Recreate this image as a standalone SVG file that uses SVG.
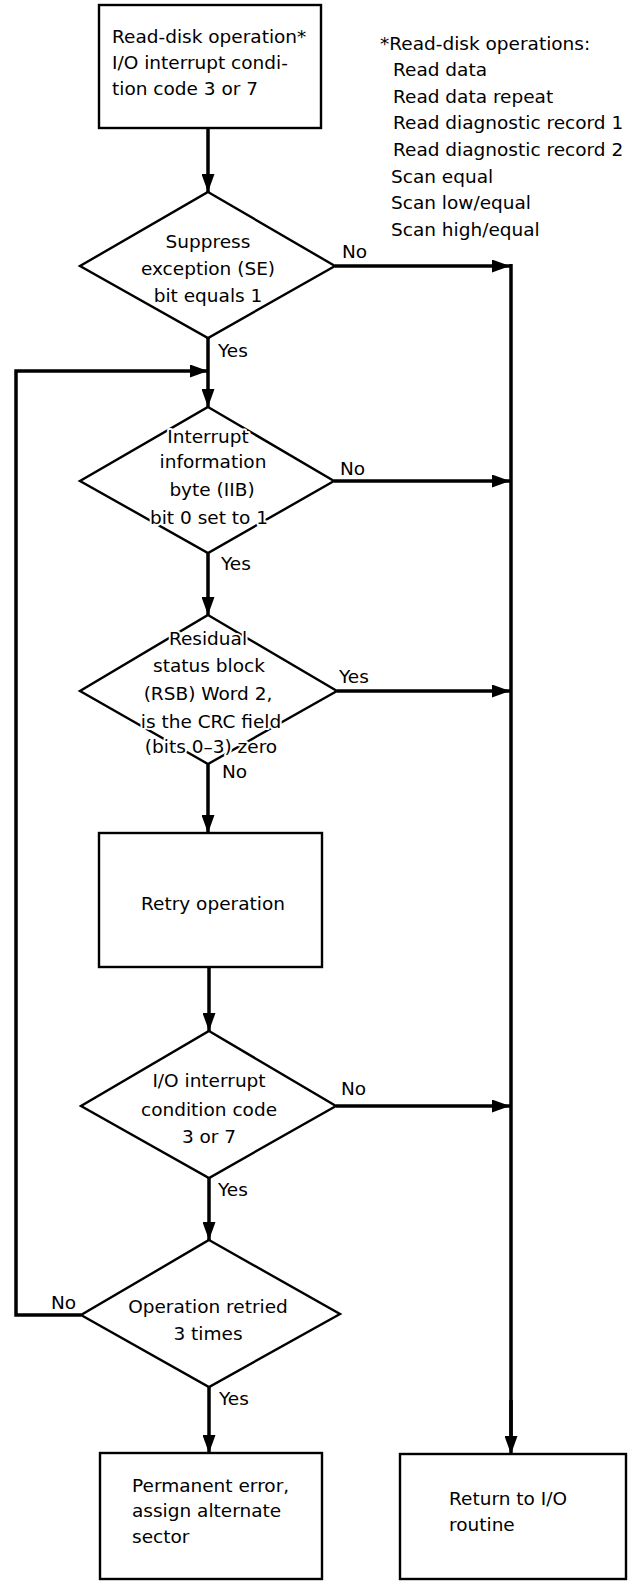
<svg xmlns="http://www.w3.org/2000/svg" width="628" height="1581" viewBox="0 0 628 1581">
<style>
  text { font-family: "DejaVu Sans", "Liberation Sans", sans-serif; font-size: 18.5px; fill: #000; }
  .c { text-anchor: middle; }
  .halo { stroke: #fff; stroke-width: 4; paint-order: stroke; stroke-linejoin: round; }
  .box { fill: #fff; stroke: #000; stroke-width: 2.4; }
  .dia { fill: #fff; stroke: #000; stroke-width: 2.4; stroke-linejoin: miter; }
  .conn { fill: none; stroke: #000; stroke-width: 3.5; }
  .arr { marker-end: url(#ah); }
</style>
<defs>
  <marker id="ah" markerUnits="userSpaceOnUse" viewBox="0 0 18 13" markerWidth="18" markerHeight="13" refX="18" refY="6.5" orient="auto">
    <path d="M0,0 L18,6.5 L0,13 z" fill="#000"/>
  </marker>
</defs>
<rect width="628" height="1581" fill="#fff"/>

<g id="connectors">
  <line class="conn arr" x1="208" y1="128" x2="208" y2="192"/>
  <line class="conn arr" x1="335" y1="266" x2="510" y2="266"/>
  <line class="conn" x1="511" y1="264" x2="511" y2="1440"/>
  <line class="conn arr" x1="511" y1="1400" x2="511" y2="1454"/>
  <line class="conn arr" x1="208" y1="338" x2="208" y2="407"/>
  <path class="conn arr" d="M81,1315 H16 V371 H208"/>
  <line class="conn arr" x1="334" y1="481" x2="510" y2="481"/>
  <line class="conn arr" x1="208" y1="553" x2="208" y2="615"/>
  <line class="conn arr" x1="337" y1="691" x2="510" y2="691"/>
  <line class="conn arr" x1="208" y1="764" x2="208" y2="833"/>
  <line class="conn arr" x1="209" y1="967" x2="209" y2="1031"/>
  <line class="conn arr" x1="336" y1="1106" x2="510" y2="1106"/>
  <line class="conn arr" x1="209" y1="1178" x2="209" y2="1240"/>
  <line class="conn arr" x1="209" y1="1387" x2="209" y2="1453"/>
  <text x="342" y="258">No</text>
  <text x="218" y="357">Yes</text>
  <text x="340" y="475">No</text>
  <text x="221" y="570">Yes</text>
  <text x="339" y="683">Yes</text>
  <text x="222" y="778">No</text>
  <text x="341" y="1095">No</text>
  <text x="218" y="1196">Yes</text>
  <text x="51" y="1309">No</text>
  <text x="219" y="1405">Yes</text>
</g>

<g id="start">
  <rect class="box" x="99" y="5" width="222" height="123"/>
  <text x="112" y="43">Read-disk operation*</text>
  <text x="112" y="69">I/O interrupt condi-</text>
  <text x="112" y="95">tion code 3 or 7</text>
</g>

<g id="footnote">
  <text x="380" y="50">*Read-disk operations:</text>
  <text x="393" y="76">Read data</text>
  <text x="393" y="103">Read data repeat</text>
  <text x="393" y="129">Read diagnostic record 1</text>
  <text x="393" y="156">Read diagnostic record 2</text>
  <text x="391" y="183">Scan equal</text>
  <text x="391" y="209">Scan low/equal</text>
  <text x="391" y="236">Scan high/equal</text>
</g>

<g id="d-suppress">
  <polygon class="dia" points="208,192 335,266 208,338 80,266"/>
  <text class="c halo" x="208" y="248">Suppress</text>
  <text class="c halo" x="208" y="275">exception (SE)</text>
  <text class="c halo" x="208" y="302">bit equals 1</text>
</g>

<g id="d-iib">
  <polygon class="dia" points="208,407 334,481 208,553 80,481"/>
  <text class="c halo" x="208" y="443">Interrupt</text>
  <text class="c halo" x="213" y="468">information</text>
  <text class="c halo" x="212" y="496">byte (IIB)</text>
  <text class="c halo" x="209" y="524">bit 0 set to 1</text>
</g>

<g id="d-rsb">
  <polygon class="dia" points="208,615 337,691 208,764 80,691"/>
  <text class="c halo" x="208" y="645">Residual</text>
  <text class="c halo" x="209" y="672">status block</text>
  <text class="c halo" x="208" y="700">(RSB) Word 2,</text>
  <text class="c halo" x="211" y="728">is the CRC field</text>
  <text class="c halo" x="211" y="753">(bits 0–3) zero</text>
</g>

<g id="retry">
  <rect class="box" x="99" y="833" width="223" height="134"/>
  <text class="c" x="213" y="910">Retry operation</text>
</g>

<g id="d-cc">
  <polygon class="dia" points="209,1031 336,1106 209,1178 81,1106"/>
  <text class="c halo" x="209" y="1087">I/O interrupt</text>
  <text class="c halo" x="209" y="1116">condition code</text>
  <text class="c halo" x="209" y="1143">3 or 7</text>
</g>

<g id="d-retried">
  <polygon class="dia" points="209,1240 340,1314 209,1387 81,1315"/>
  <text class="c halo" x="208" y="1313">Operation retried</text>
  <text class="c halo" x="208" y="1340">3 times</text>
</g>

<g id="permanent">
  <rect class="box" x="100" y="1453" width="222" height="126"/>
  <text x="132" y="1492">Permanent error,</text>
  <text x="132" y="1517">assign alternate</text>
  <text x="132" y="1543">sector</text>
</g>

<g id="return">
  <rect class="box" x="400" y="1454" width="226" height="125"/>
  <text x="449" y="1505">Return to I/O</text>
  <text x="449" y="1531">routine</text>
</g>
</svg>
